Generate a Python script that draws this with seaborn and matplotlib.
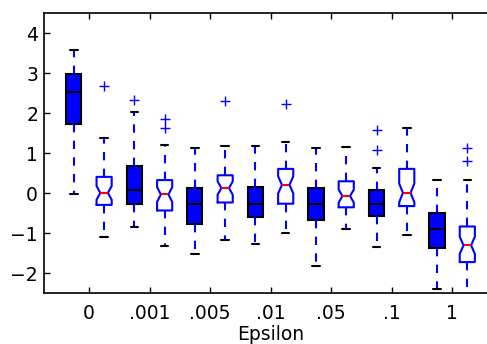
import matplotlib
matplotlib.use("Agg")
import matplotlib.pyplot as plt
import pandas as pd
import seaborn as sns

eps_labels = ["0", ".001", ".005", ".01", ".05", ".1", "1"]

# filled boxes (plain)
lo_a = [-0.02, -0.85, -1.51, -1.27, -1.81, -1.34, -2.40]
q1_a = [1.72, -0.28, -0.78, -0.60, -0.67, -0.57, -1.38]
med_a = [2.52, 0.07, -0.28, -0.28, -0.28, -0.27, -0.90]
q3_a = [2.99, 0.69, 0.13, 0.16, 0.13, 0.08, -0.49]
hi_a = [3.59, 2.03, 1.14, 1.19, 1.14, 0.62, 0.34]
fliers_a = [[], [2.34], [], [], [], [1.08, 1.58], []]

# open boxes (notched)
lo_b = [-1.10, -1.33, -1.18, -0.99, -0.89, -1.05, -2.70]
q1_b = [-0.29, -0.43, -0.23, -0.26, -0.35, -0.32, -1.72]
med_b = [0.01, -0.03, 0.13, 0.21, -0.07, 0.01, -1.30]
q3_b = [0.41, 0.33, 0.45, 0.61, 0.30, 0.61, -0.83]
hi_b = [1.38, 1.21, 1.17, 1.29, 1.15, 1.63, 0.34]
fliers_b = [[2.67], [1.62, 1.85], [2.31], [2.22], [], [], [0.80, 1.14]]


def build(lo, q1, med, q3, hi, fliers, offset, reps=8):
    # sample whose quartiles / whisker ends equal the values
    rows = []
    for i in range(len(lo)):
        vals = [lo[i], q1[i], med[i], q3[i], hi[i]] * reps + fliers[i]
        rows += [{"pos": 2 * i + offset, "value": v} for v in vals]
    return pd.DataFrame(rows)


df_a = build(lo_a, q1_a, med_a, q3_a, hi_a, fliers_a, 1)
df_b = build(lo_b, q1_b, med_b, q3_b, hi_b, fliers_b, 2)

sns.set_theme(style="ticks", rc={
    "xtick.direction": "in", "ytick.direction": "in",
    "xtick.top": True, "ytick.right": True,
    "xtick.major.size": 4, "ytick.major.size": 4,
    "xtick.major.width": 1, "ytick.major.width": 1,
    "xtick.major.pad": 8, "ytick.major.pad": 4,
    "axes.linewidth": 1.2, "axes.edgecolor": "black",
    "xtick.labelsize": 13.5, "ytick.labelsize": 13.5, "axes.labelsize": 13.5,
    "xtick.color": "black", "ytick.color": "black", "text.color": "black",
    "axes.labelcolor": "black",
})
plt.rcParams["font.family"] = ["DejaVu Sans"]

fig = plt.figure(figsize=(4.87, 3.44), dpi=100)
ax = fig.add_axes([0.0895, 0.1474, 0.9322, 0.814])

common = dict(native_scale=True, width=0.25, saturation=1, linewidth=1.5, whis=1.5,
              fliersize=7,
              whiskerprops=dict(color="blue", linestyle=(0, (4, 4)), linewidth=1.5),
              capprops=dict(color="black", linewidth=1.5),
              flierprops=dict(marker="+", markeredgecolor="blue", markersize=7,
                              markeredgewidth=1))

sns.boxplot(data=df_a, x="pos", y="value", ax=ax, color="blue", fill=True,
            boxprops=dict(facecolor="blue", edgecolor="black", linewidth=1.5),
            medianprops=dict(color="black", linewidth=1.5), **common)
sns.boxplot(data=df_b, x="pos", y="value", ax=ax, color="blue", fill=False,
            notch=True,
            boxprops=dict(color="blue", linewidth=1.5),
            medianprops=dict(color="red", linewidth=1.5), **common)

ax.set_xlim(0, 15)
ax.set_ylim(-2.5, 4.5)
ax.set_xticks([2 * i + 1.5 for i in range(len(eps_labels))])
ax.set_xticklabels(eps_labels)
ax.set_yticks([-2, -1, 0, 1, 2, 3, 4])
ax.set_xlabel("Epsilon", labelpad=1)
ax.set_ylabel("")

fig.savefig("out.png", dpi=100)
